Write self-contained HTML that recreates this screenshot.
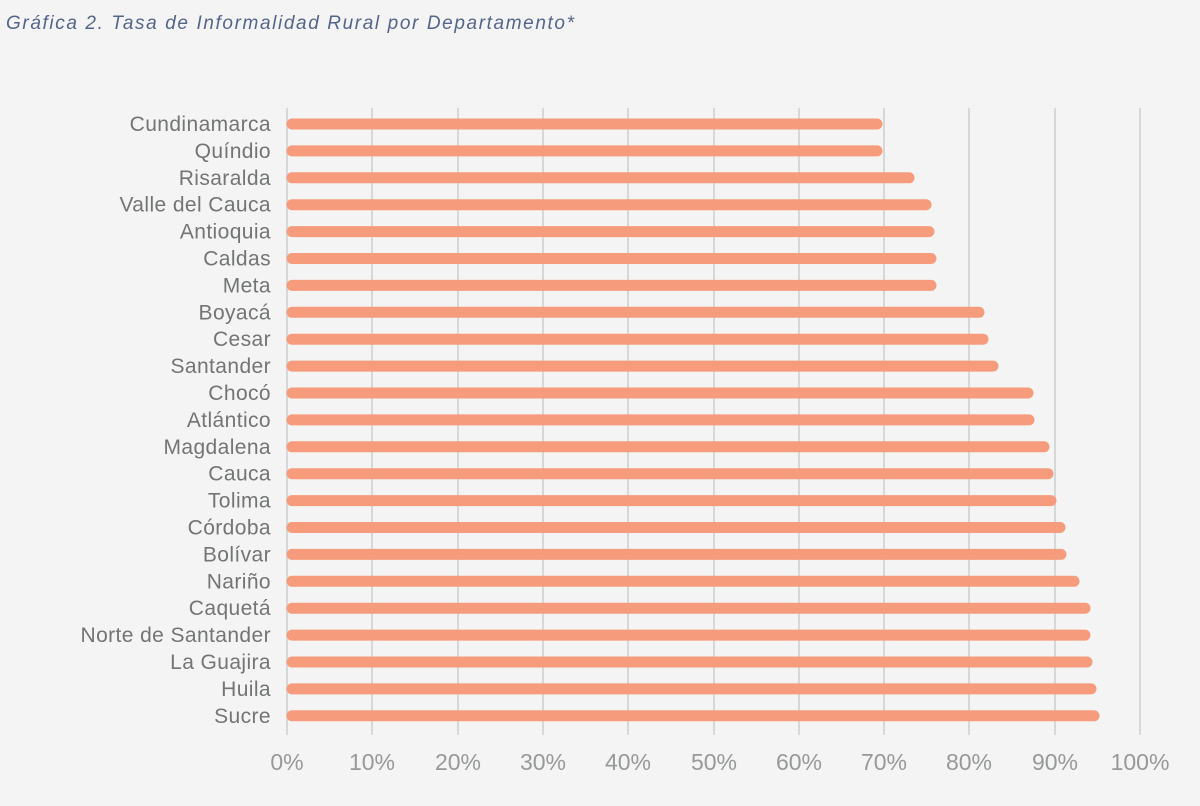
<!DOCTYPE html>
<html><head><meta charset="utf-8"><style>
body{margin:0;background:#f3f4f3;width:1200px;height:806px;overflow:hidden}
svg{display:block}
</style></head><body>
<svg width="1200" height="806" xmlns="http://www.w3.org/2000/svg" font-family="Liberation Sans, sans-serif">
<rect width="1200" height="806" fill="#f3f4f3"/>
<text x="6" y="29" font-size="19" font-style="italic" fill="#55648a" textLength="568">Gráfica 2. Tasa de Informalidad Rural por Departamento*</text>
<g stroke="#d6d8d8" stroke-width="2">
<line x1="287" y1="108" x2="287" y2="735"/><line x1="372" y1="108" x2="372" y2="735"/><line x1="458" y1="108" x2="458" y2="735"/><line x1="543" y1="108" x2="543" y2="735"/><line x1="628" y1="108" x2="628" y2="735"/><line x1="714" y1="108" x2="714" y2="735"/><line x1="799" y1="108" x2="799" y2="735"/><line x1="884" y1="108" x2="884" y2="735"/><line x1="969" y1="108" x2="969" y2="735"/><line x1="1055" y1="108" x2="1055" y2="735"/><line x1="1140" y1="108" x2="1140" y2="735"/>
</g>
<g font-size="23" fill="#979999" text-anchor="middle">
<text x="287" y="770">0%</text><text x="372" y="770">10%</text><text x="458" y="770">20%</text><text x="543" y="770">30%</text><text x="628" y="770">40%</text><text x="714" y="770">50%</text><text x="799" y="770">60%</text><text x="884" y="770">70%</text><text x="969" y="770">80%</text><text x="1055" y="770">90%</text><text x="1140" y="770">100%</text>
</g>
<g stroke="#f69c7c" stroke-width="11" stroke-linecap="round" id="bars"></g>
<g font-size="21" fill="#737575" text-anchor="end" id="labels"></g>
<script>
var d=[["Cundinamarca",882],["Quíndio",882],["Risaralda",914],["Valle del Cauca",931],["Antioquia",934],["Caldas",936],["Meta",936],["Boyacá",984],["Cesar",988],["Santander",998],["Chocó",1033],["Atlántico",1034],["Magdalena",1049],["Cauca",1053],["Tolima",1056],["Córdoba",1065],["Bolívar",1066],["Nariño",1079],["Caquetá",1090],["Norte de Santander",1090],["La Guajira",1092],["Huila",1096],["Sucre",1099]];
var ns="http://www.w3.org/2000/svg",b=document.getElementById("bars"),l=document.getElementById("labels");
d.forEach(function(r,i){var y=124+i*26.9;
var ln=document.createElementNS(ns,"line");ln.setAttribute("x1",292);ln.setAttribute("x2",r[1]-5);ln.setAttribute("y1",y);ln.setAttribute("y2",y);b.appendChild(ln);
var t=document.createElementNS(ns,"text");t.setAttribute("x",271);t.setAttribute("y",y+7);t.setAttribute("letter-spacing","0.4");t.textContent=r[0];l.appendChild(t);});
</script>
</svg>
</body></html>
